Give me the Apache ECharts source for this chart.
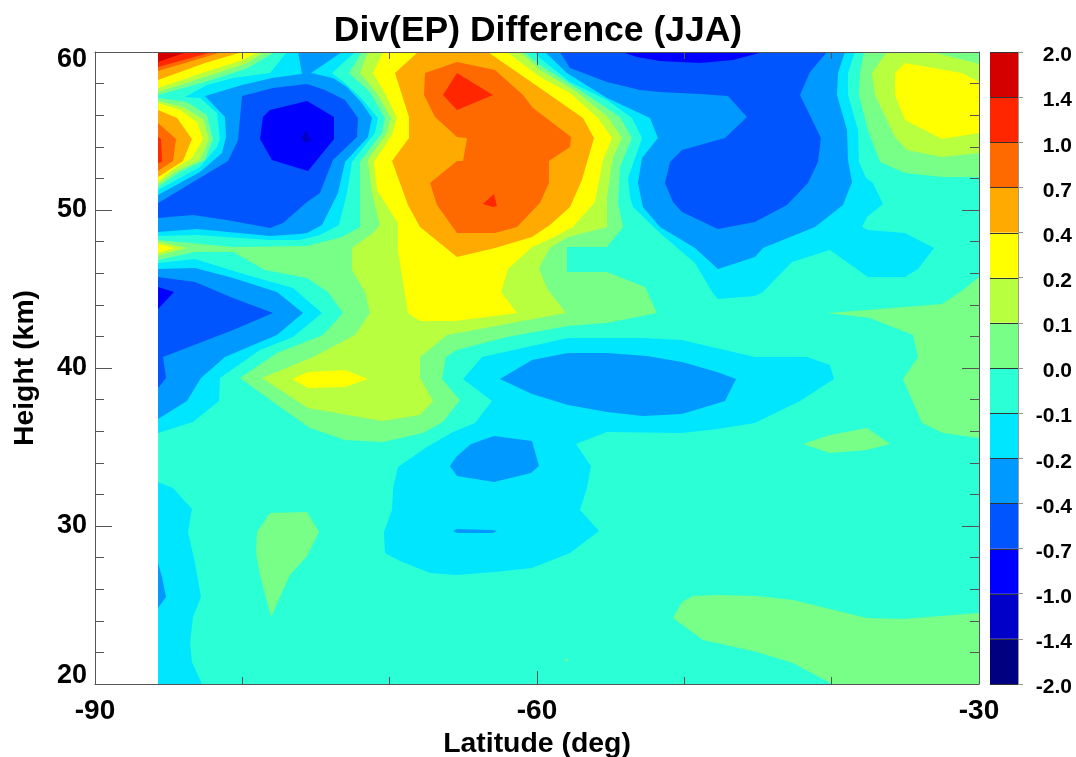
<!DOCTYPE html>
<html>
<head>
<meta charset="utf-8">
<style>html,body{margin:0;padding:0;background:#fff}#c{width:1076px;height:757px}</style>
<script src="https://cdn.jsdelivr.net/npm/echarts@6/dist/echarts.min.js"></script>
</head>
<body>
<div id="c"></div>
<script>
// Contour bands: rings of [latitude, height km]
var colorbarLabels = ['-2.0','-1.4','-1.0','-0.7','-0.4','-0.2','-0.1','0.0','0.1','0.2','0.4','0.7','1.0','1.4','2.0'];
var bandColors = ['#000080','#0000c8','#0000ff','#0055ff','#0099ff','#00e6ff','#2bffd5','#78ff88','#b8ff40','#ffff00','#ffaa00','#ff6a00','#ff2600','#d40000'];

var bandZeroNeg = [
 [[-85.72,20],[-30,20],[-30,60],[-85.72,60]]
];
var bandPos01 = [
 [[-85.72,60],[-77.78,60],[-79.62,58.99],[-82.53,58.10],[-85.72,57.28]],
 [[-85.72,57.09],[-83.76,56.84],[-82.40,56.01],[-81.99,54.49],[-82.53,53.16],[-84.23,52.41],[-85.72,51.46]],
 [[-85.72,48.10],[-80.63,47.66],[-75.61,47.72],[-73.24,48.29],[-72.01,48.92],[-72.01,53.04],[-70.52,54.87],[-70.32,55.82],[-71.34,57.47],[-72.76,58.67],[-71.88,60],[-60.88,60],[-59.80,59.18],[-56.88,57.47],[-54.37,55.89],[-53.55,54.56],[-54.37,52.72],[-54.50,50.44],[-54.16,48.92],[-55.25,47.66],[-57.97,47.66],[-57.97,46.08],[-55.25,46.08],[-52.67,45.13],[-51.86,43.48],[-55.25,42.85],[-57.90,42.66],[-62.04,41.96],[-65.43,41.14],[-66.18,40.70],[-66.45,39.30],[-65.23,37.97],[-66.38,36.58],[-67.74,35.89],[-70.45,35.32],[-73.03,35.44],[-75.41,36.20],[-77.44,37.53],[-80.16,39.37],[-77.65,40.95],[-74.53,42.09],[-73.17,43.48],[-74.19,44.81],[-75.61,45.70],[-78.46,46.20],[-80.63,47.34],[-83.21,47.34],[-85.72,46.84]],
 [[-37.81,60],[-30,60],[-30,52.09],[-32.51,52.09],[-35.02,52.34],[-36.72,53.04],[-37.54,55.06],[-38.15,57.28],[-38.08,58.67]],
 [[-30,45.76],[-31.09,44.94],[-32.51,44.05],[-37.60,43.67],[-40.32,43.48],[-37.40,43.16],[-34.48,42.09],[-34.14,40.70],[-35.16,39.30],[-33.87,36.52],[-32.45,35.89],[-30,35.57]],
 [[-41.95,35.19],[-40.12,35.76],[-37.60,36.20],[-36.04,35.19],[-37.60,34.81],[-40.12,34.62]],
 [[-50.77,24.18],[-50.16,25.19],[-49.41,25.57],[-47.72,25.63],[-45.07,25.57],[-42.63,25.32],[-37.60,24.18],[-35.16,24.11],[-30,24.49],[-30,20],[-39.98,20],[-42.63,21.33],[-45.07,22.03],[-48.74,22.78]],
 [[-78.12,30.82],[-75.61,30.89],[-74.80,29.62],[-75.61,28.10],[-76.77,26.90],[-78.05,24.24],[-78.80,26.90],[-79.07,28.29],[-79.0,29.62]],
 [[-58.10,21.52],[-57.97,21.62],[-57.85,21.52],[-57.97,21.42]]
];
var bandPos02 = [
 [[-85.72,60],[-78.46,60],[-79.82,59.24],[-82.53,58.42],[-85.72,57.47]],
 [[-85.72,56.90],[-84.03,56.52],[-82.67,55.76],[-82.26,54.49],[-82.87,53.16],[-84.57,52.41],[-85.72,51.65]],
 [[-85.72,48.0],[-83.76,47.6],[-85.72,47.1]],
 [[-71.47,60],[-61.15,60],[-59.80,58.86],[-57.29,57.47],[-55.18,55.89],[-54.23,54.56],[-54.84,53.35],[-55.25,50.82],[-55.25,48.92],[-57.90,48.29],[-59.12,47.60],[-59.59,46.84],[-59.87,46.27],[-59.25,44.94],[-58.03,43.48],[-61.36,42.91],[-66.11,42.09],[-67.94,40.70],[-67.94,39.37],[-67.06,37.91],[-67.94,37.03],[-70.52,36.65],[-75.54,37.47],[-78.67,39.37],[-75.20,40.70],[-72.35,42.09],[-71.34,43.48],[-71.67,44.81],[-72.56,46.20],[-72.56,47.60],[-71.13,48.54],[-70.66,49.05],[-71.20,51.08],[-71.47,53.16],[-70.18,54.87],[-69.91,55.82],[-70.86,57.41],[-72.01,58.67]],
 [[-36.25,60],[-33.19,60],[-30,59.24],[-30,53.61],[-32.51,53.35],[-34.89,53.80],[-35.70,54.62],[-37.06,57.28],[-37.27,58.67]]
];
var bandPos04 = [
 [[-85.72,60],[-78.94,60],[-79.96,59.49],[-82.53,58.73],[-85.72,57.72]],
 [[-85.72,56.77],[-84.23,56.33],[-83.08,55.57],[-82.67,54.49],[-83.42,53.29],[-84.77,52.53],[-85.72,51.77]],
 [[-85.72,47.85],[-84.57,47.6],[-85.72,47.28]],
 [[-70.45,60],[-62.04,60],[-59.80,58.42],[-57.76,57.41],[-55.86,55.82],[-54.91,54.56],[-55.52,53.16],[-56.07,50.51],[-57.56,48.92],[-58.98,48.23],[-60.34,47.66],[-61.97,46.27],[-62.44,44.81],[-61.36,43.48],[-65.57,42.97],[-67.94,42.97],[-68.76,43.48],[-69.44,47.47],[-69.44,49.18],[-70.86,51.27],[-71.06,53.04],[-69.84,54.75],[-69.50,55.82],[-70.32,57.41],[-71.13,58.67]],
 [[-76.63,39.30],[-75.54,39.75],[-73.03,39.87],[-71.47,39.30],[-73.03,38.80],[-75.54,38.73]],
 [[-35.02,59.30],[-31.16,58.67],[-30,58.10],[-30,54.87],[-32.51,54.49],[-35.02,55.70],[-35.70,57.28],[-35.70,58.67]]
];
var bandPos07 = [
 [[-85.72,60],[-80.02,60],[-82.53,59.30],[-85.72,58.23]],
 [[-85.72,56.33],[-84.43,55.82],[-83.42,54.49],[-84.03,53.10],[-85.72,52.09]],
 [[-68.08,60],[-63.33,60],[-62.85,59.68],[-59.80,57.72],[-56.88,55.82],[-56.13,54.56],[-56.95,51.90],[-57.76,50.19],[-59.12,49.05],[-60.34,48.29],[-62.85,47.60],[-65.43,47.03],[-67.94,48.92],[-68.76,50.32],[-69.84,53.10],[-68.69,54.56],[-68.69,55.89],[-69.64,58.67]]
];
var bandPos10 = [
 [[-85.72,60],[-81.38,60],[-85.72,58.80]],
 [[-85.72,55.51],[-84.50,54.49],[-84.71,53.10],[-85.72,52.47]],
 [[-67.60,58.67],[-65.43,59.37],[-62.85,58.86],[-60.95,57.28],[-60.27,56.46],[-57.69,54.62],[-57.76,53.99],[-59.19,53.10],[-59.19,51.71],[-59.80,50.44],[-61.36,48.92],[-62.85,48.54],[-65.43,48.54],[-66.79,50.32],[-67.26,51.71],[-65.43,53.10],[-65.02,53.10],[-64.75,54.56],[-65.43,54.62],[-66.92,55.89],[-67.67,57.28]]
];
var bandPos14 = [
 [[-85.72,60],[-82.06,60],[-85.72,59.05]],
 [[-85.72,54.62],[-85.52,54.49],[-85.45,53.04],[-85.72,52.97]],
 [[-65.43,58.67],[-62.99,57.28],[-65.43,56.33],[-66.38,57.28]],
 [[-63.67,50.38],[-62.92,51.01],[-62.72,50.25],[-62.99,50.19]]
];
var bandPos20 = [
 [[-85.72,60],[-83.76,60],[-85.72,59.37]]
];
var bandNeg02 = [
 [[-76.97,60],[-72.35,60],[-73.91,58.67],[-73.03,58.04],[-71.81,56.96],[-70.79,55.82],[-71.0,54.87],[-72.56,53.04],[-72.90,51.08],[-73.44,49.05],[-74.73,48.42],[-76.09,48.10],[-78.12,48.10],[-83.08,48.42],[-85.72,48.35],[-85.72,51.27],[-82.87,52.72],[-81.72,53.99],[-81.52,54.49],[-81.72,56.14],[-82.87,57.09],[-83.89,57.15],[-82.40,57.91],[-80.63,58.35],[-78.12,58.67]],
 [[-85.72,46.65],[-83.21,46.90],[-80.16,46.01],[-76.56,45.06],[-74.59,43.48],[-76.56,41.96],[-78.80,41.14],[-81.52,39.37],[-81.58,37.91],[-83.35,36.58],[-85.72,35.89]],
 [[-85.72,32.78],[-84.71,32.41],[-83.42,31.08],[-83.69,29.62],[-83.21,27.66],[-82.81,25.51],[-83.35,24.24],[-83.55,22.60],[-83.42,21.39],[-82.74,20],[-85.72,20]],
 [[-60.20,60],[-38.42,60],[-38.89,58.67],[-38.89,57.28],[-38.21,55.06],[-38.15,53.04],[-37.67,52.03],[-37.20,51.71],[-36.52,50.38],[-37.60,49.56],[-37.94,48.92],[-37.54,48.73],[-35.02,48.54],[-33.05,47.60],[-34.14,46.27],[-35.02,45.76],[-37.54,45.76],[-40.12,47.47],[-42.69,46.71],[-44.66,44.81],[-45.21,44.56],[-47.72,44.37],[-48.06,44.75],[-49.28,46.65],[-51.65,48.54],[-53.48,50.19],[-53.69,50.82],[-53.82,52.03],[-52.87,54.56],[-53.55,55.82],[-55.25,56.96],[-57.76,58.10],[-59.80,59.62]],
 [[-65.02,39.30],[-63.73,40.70],[-57.90,41.90],[-52.81,41.90],[-50.16,41.77],[-45.21,40.70],[-41.68,40.70],[-40.12,40.19],[-39.84,39.30],[-42.15,37.91],[-45.21,36.52],[-47.72,36.14],[-50.16,35.89],[-55.25,35.95],[-57.35,35.19],[-56.34,33.80],[-56.61,32.41],[-57.08,31.01],[-55.79,29.68],[-57.76,28.29],[-60.34,27.34],[-62.85,27.09],[-65.43,26.90],[-67.26,27.03],[-69.30,27.78],[-70.32,28.29],[-70.39,29.62],[-69.84,31.01],[-69.77,32.41],[-69.44,33.73],[-67.47,35.0],[-65.70,35.95],[-64.21,36.52],[-63.06,37.91]]
];
var bandNeg04 = [
 [[-76.22,60],[-73.24,60],[-75.34,58.67],[-73.85,58.35],[-72.90,57.78],[-71.88,56.77],[-71.20,55.82],[-71.47,54.62],[-73.03,53.04],[-73.51,51.08],[-74.59,49.05],[-75.61,48.54],[-76.09,48.48],[-78.12,48.35],[-83.08,48.80],[-85.72,48.61],[-85.72,50.95],[-82.87,52.41],[-81.38,53.61],[-81.11,54.62],[-81.18,55.89],[-82.53,57.22],[-80.02,57.91],[-77.99,58.35],[-75.95,58.61]],
 [[-85.72,46.27],[-83.21,46.33],[-80.63,45.70],[-77.65,44.81],[-75.88,43.48],[-77.65,42.09],[-81.18,40.70],[-82.81,39.37],[-83.76,37.91],[-85.72,36.77]],
 [[-85.72,27.66],[-85.45,26.77],[-85.18,25.51],[-85.72,24.81]],
 [[-59.46,60],[-39.10,60],[-39.57,58.67],[-39.64,57.28],[-38.96,55.06],[-38.89,53.16],[-38.62,51.77],[-39.23,50.32],[-41.13,48.92],[-44.66,47.60],[-45.21,47.03],[-47.72,46.27],[-49.28,47.60],[-51.65,48.92],[-52.81,50.19],[-53.15,51.71],[-52.87,53.29],[-51.79,54.56],[-52.33,55.82],[-55.25,57.09],[-57.97,58.67]],
 [[-62.51,39.30],[-60.34,40.51],[-57.90,40.95],[-55.25,40.95],[-52.54,40.76],[-50.16,40.38],[-47.78,39.75],[-46.49,39.30],[-47.24,37.91],[-50.16,37.09],[-52.81,36.96],[-55.25,37.22],[-57.90,37.66],[-60.34,38.35]],
 [[-65.91,33.80],[-65.43,34.43],[-64.48,35.19],[-62.92,35.70],[-60.34,35.38],[-59.87,33.80],[-60.41,33.35],[-62.92,32.78],[-65.43,33.16]],
 [[-65.70,29.68],[-65.43,29.81],[-62.99,29.75],[-62.72,29.68],[-62.99,29.56],[-65.43,29.56]]
];
var bandNeg07 = [
 [[-80.02,57.22],[-77.92,57.72],[-75.61,57.97],[-74.39,57.59],[-73.03,56.96],[-72.15,55.82],[-72.22,54.62],[-73.85,53.16],[-74.73,51.08],[-75.61,50.51],[-77.24,49.18],[-78.12,48.86],[-81.04,49.37],[-83.35,49.68],[-85.72,49.49],[-85.72,50.44],[-80.97,53.10],[-80.29,54.43]],
 [[-85.72,45.76],[-83.21,45.44],[-80.63,44.43],[-77.92,43.48],[-80.63,42.41],[-85.38,40.70],[-85.18,39.37],[-85.72,38.73]],
 [[-58.44,60],[-40.32,60],[-41.47,58.73],[-42.15,57.28],[-40.73,54.56],[-40.93,53.04],[-41.61,51.71],[-43.03,50.32],[-45.21,49.24],[-47.72,48.80],[-50.16,49.87],[-50.77,50.51],[-51.31,51.71],[-50.97,53.04],[-50.16,53.80],[-47.24,54.56],[-45.75,55.89],[-47.04,57.22],[-48.94,57.34],[-51.65,57.47],[-53.01,57.59],[-55.25,58.10],[-57.76,58.99]]
];
var bandNeg10 = [
 [[-78.60,55.89],[-78.12,56.33],[-75.61,56.90],[-73.78,55.89],[-73.78,54.49],[-75.54,52.47],[-77.99,53.16],[-78.80,54.49]],
 [[-85.72,45.13],[-84.64,44.81],[-85.72,43.73]],
 [[-54.23,60],[-44.66,60],[-46.70,59.49],[-48.94,59.30],[-51.65,59.43],[-53.21,59.68]]
];
var bandNeg14 = [
 [[-76.02,54.49],[-75.68,55.06],[-75.34,54.43],[-75.61,54.24]]
];

// painter order: outermost first, each entry = [rings, colour index]
var layers = [
 [bandZeroNeg, 6], [bandPos01, 7], [bandPos02, 8], [bandPos04, 9], [bandPos07, 10],
 [bandPos10, 11], [bandPos14, 12], [bandPos20, 13],
 [bandNeg02, 5], [bandNeg04, 4], [bandNeg07, 3], [bandNeg10, 2], [bandNeg14, 1]
];

var fontFam = '"Liberation Sans", Arial, sans-serif';
var contourSeries = layers.map(function (layer, i) {
  var rings = layer[0];
  return {
    type: 'custom', name: 'band' + i, xAxisIndex: 0, yAxisIndex: 0, coordinateSystem: 'cartesian2d',
    z: 2 + i * 0.01, silent: true, clip: true,
    data: rings.map(function (r, k) { return [r[0][0], r[0][1], k]; }),
    renderItem: function (params, api) {
      var ring = rings[api.value(2)];
      return { type: 'polygon', shape: { points: ring.map(function (p) { return api.coord(p); }) },
               style: { fill: bandColors[layer[1]], stroke: null } };
    }
  };
});
var barSeries = bandColors.map(function (c, i) {
  return { type: 'bar', xAxisIndex: 2, yAxisIndex: 2, stack: 'cb', barWidth: '100%', silent: true,
           data: [1], itemStyle: { color: c }, z: 2 };
});
// dark divider across the colour bar at each labelled level
var dividerSeries = {
  type: 'custom', xAxisIndex: 2, yAxisIndex: 2, coordinateSystem: 'cartesian2d', silent: true, z: 5, clip: false,
  encode: { x: 0, y: 1 },
  data: colorbarLabels.map(function (t, i) { return ['band', i]; }),
  renderItem: function (params, api) {
    var cs = params.coordSys;
    var y = Math.round(api.coord(['band', api.value(1)])[1]) + 0.5;
    return { type: 'line', shape: { x1: cs.x, y1: y, x2: cs.x + cs.width, y2: y },
             style: { stroke: '#333', lineWidth: 1 } };
  }
};

var lineCol = '#555';
function xAx(pos, labels) {
  return { type: 'value', gridIndex: 0, position: pos, min: -90, max: -30, interval: 30, z: 10,
    axisLine: { show: true, onZero: false, lineStyle: { color: lineCol, width: 1 } },
    axisTick: { show: true, inside: true, length: 13, lineStyle: { color: lineCol } },
    minorTick: { show: true, splitNumber: 3, length: 7, lineStyle: { color: lineCol } },
    splitLine: { show: false }, minorSplitLine: { show: false },
    axisLabel: { show: labels, fontFamily: fontFam, fontWeight: 'bold', fontSize: 28, color: '#000', margin: 13,
                 hideOverlap: false, showMinLabel: true, showMaxLabel: true },
    name: labels ? 'Latitude (deg)' : '', nameLocation: 'middle', nameGap: 41,
    nameTextStyle: { fontFamily: fontFam, fontWeight: 'bold', fontSize: 28.4, color: '#000' } };
}
function yAx(pos, labels) {
  return { type: 'value', gridIndex: 0, position: pos, min: 20, max: 60, interval: 10, z: 10,
    axisLine: { show: true, onZero: false, lineStyle: { color: lineCol, width: 1 } },
    axisTick: { show: true, inside: true, length: 17, lineStyle: { color: lineCol } },
    minorTick: { show: true, splitNumber: 5, length: 9, lineStyle: { color: lineCol } },
    splitLine: { show: false }, minorSplitLine: { show: false },
    axisLabel: { show: labels, fontFamily: fontFam, fontWeight: 'bold', fontSize: 27, lineHeight: 16, color: '#000', margin: 8,
                 verticalAlignMaxLabel: 'top', verticalAlignMinLabel: 'bottom', showMinLabel: true, showMaxLabel: true },
    name: labels ? 'Height (km)' : '', nameLocation: 'middle', nameGap: 56, nameRotate: 90,
    nameTextStyle: { fontFamily: fontFam, fontWeight: 'bold', fontSize: 28.4, color: '#000' } };
}

var chart = echarts.init(document.getElementById('c'), null, { renderer: 'canvas' });
chart.setOption({
  animation: false,
  backgroundColor: '#fff',
  title: { text: 'Div(EP) Difference (JJA)', left: 533, top: 8, textAlign: 'center',
           textStyle: { fontFamily: fontFam, fontWeight: 'bold', fontSize: 35.5, color: '#000' } },
  grid: [
    { left: 95, top: 52, width: 884, height: 632, outerBoundsMode: 'none' },
    { left: 990, top: 52, width: 28, height: 632, outerBoundsMode: 'none' }
  ],
  xAxis: [ xAx('bottom', true), xAx('top', false),
    { type: 'category', gridIndex: 1, data: ['band'], position: 'bottom',
      axisLine: { show: true, lineStyle: { color: '#999' } }, axisTick: { show: false }, axisLabel: { show: false } } ],
  yAxis: [ yAx('left', true), yAx('right', false),
    { type: 'value', gridIndex: 1, position: 'right', min: 0, max: 14, interval: 1, z: 10,
      axisLine: { show: true, lineStyle: { color: '#999' } },
      axisTick: { show: true, length: 5, lineStyle: { color: '#999' } },
      splitLine: { show: false },
      axisLabel: { fontFamily: fontFam, fontWeight: 'bold', fontSize: 21, color: '#000', align: 'right', margin: 54,
                   verticalAlign: 'top', lineHeight: 7, showMinLabel: true, showMaxLabel: true,
                   formatter: function (v) { return colorbarLabels[v]; } } } ],
  series: contourSeries.concat(barSeries).concat([dividerSeries])
});
</script>
</body>
</html>
